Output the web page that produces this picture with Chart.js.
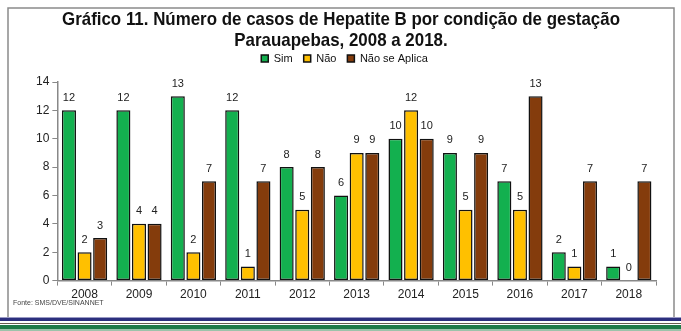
<!DOCTYPE html>
<html lang="pt">
<head>
    <meta charset="UTF-8">
    <title>Hepatite B por condição de gestação</title>
    <script src="https://cdn.jsdelivr.net/npm/chart.js"></script>
    <style>
        html, body { margin: 0; padding: 0; background: #fff; }
        #wrap { width: 681px; height: 331px; position: relative; }
    </style>
</head>
<body>
    <div id="wrap"><canvas id="chart" width="681" height="331"></canvas></div>

    <script>
        // Data
        const years = ['2008', '2009', '2010', '2011', '2012', '2013', '2014', '2015', '2016', '2017', '2018'];
        const sim = [12, 12, 13, 12, 8, 6, 10, 9, 7, 2, 1];
        const nao = [2, 4, 2, 1, 5, 9, 12, 5, 5, 1, 0];
        const naoSeAplica = [3, 4, 7, 7, 8, 9, 10, 9, 13, 7, 7];
        const yTicks = [0, 2, 4, 6, 8, 10, 12, 14];
        const titleLines = ['Gráfico 11. Número de casos de Hepatite B por condição de gestação',
                            'Parauapebas, 2008 a 2018.'];

        const sans = '"Liberation Sans", Arial, sans-serif';

        // value labels above each bar
        const barLabels = {
            id: 'barLabels',
            afterDatasetsDraw(chart) {
                const ctx = chart.ctx;
                ctx.save();
                ctx.font = '11px ' + sans;
                ctx.fillStyle = '#222';
                ctx.textAlign = 'center';
                ctx.textBaseline = 'bottom';
                chart.data.datasets.forEach((ds, i) => {
                    chart.getDatasetMeta(i).data.forEach((bar, j) => {
                        ctx.fillText(ds.data[j], bar.x, bar.y - 7);
                    });
                });
                ctx.restore();
            }
        };

        // give the legend a fixed height so the plot starts where it should
        const legendHeight = {
            id: 'legendHeight',
            beforeInit(chart) {
                const fit = chart.legend.fit;
                chart.legend.fit = function () {
                    fit.call(this);
                    this.height = 40;
                };
            }
        };

        // frame, condensed title, source note and the stripes under the figure
        const decorations = {
            id: 'decorations',
            beforeDraw(chart) {
                const ctx = chart.ctx;
                ctx.save();
                ctx.fillStyle = '#fff';
                ctx.fillRect(0, 0, chart.width, chart.height);
                ctx.strokeStyle = '#8a8a8a';
                ctx.lineWidth = 1.5;
                ctx.beginPath();
                ctx.moveTo(8, 320);
                ctx.lineTo(8, 8);
                ctx.lineTo(674, 8);
                ctx.lineTo(674, 320);
                ctx.stroke();
                ctx.restore();
            },
            afterDraw(chart) {
                const ctx = chart.ctx;
                ctx.save();
                // title, squeezed horizontally like the original condensed face
                ctx.font = 'bold 19px ' + sans;
                ctx.fillStyle = '#111';
                ctx.textAlign = 'center';
                ctx.textBaseline = 'middle';
                const sx = 558 / ctx.measureText(titleLines[0]).width;
                ctx.translate(341, 0);
                ctx.scale(sx, 1);
                ctx.fillText(titleLines[0], 0, 20);
                ctx.fillText(titleLines[1], 0, 41);
                ctx.restore();

                ctx.save();
                ctx.font = '7px ' + sans;
                ctx.fillStyle = '#444';
                ctx.textBaseline = 'middle';
                ctx.fillText('Fonte: SMS/DVE/SINANNET', 13, 303);

                const stripes = [
                    [317, 1, '#9a9ac4'],
                    [318, 3, '#2c2f7e'],
                    [321, 1, '#ffffff'],
                    [323, 1, '#6b5d50'],
                    [325, 4, '#1f7a48'],
                    [329, 2, '#9cc3aa']
                ];
                stripes.forEach(s => {
                    ctx.fillStyle = s[2];
                    ctx.fillRect(0, s[0], chart.width, s[1]);
                });
                ctx.restore();
            }
        };

        const barStyle = {
            borderColor: '#111',
            borderWidth: 1.5,
            borderSkipped: false,
            categoryPercentage: 0.86,
            barPercentage: 0.9
        };

        new Chart(document.getElementById('chart'), {
            type: 'bar',
            data: {
                labels: years,
                datasets: [
                    Object.assign({ label: 'Sim', data: sim, backgroundColor: '#13b04f' }, barStyle),
                    Object.assign({ label: 'Não', data: nao, backgroundColor: '#ffc000' }, barStyle),
                    Object.assign({ label: 'Não se Aplica', data: naoSeAplica, backgroundColor: '#843c0c' }, barStyle)
                ]
            },
            options: {
                responsive: false,
                animation: false,
                layout: { padding: { left: 33, right: 25, top: 42, bottom: 27 } },
                plugins: {
                    title: { display: false },
                    legend: {
                        display: true,
                        labels: {
                            boxWidth: 7,
                            boxHeight: 7,
                            padding: 11,
                            color: '#111',
                            font: { family: sans, size: 11 }
                        }
                    },
                    tooltip: { enabled: false }
                },
                scales: {
                    x: {
                        grid: {
                            display: true,
                            drawOnChartArea: false,
                            drawTicks: true,
                            tickLength: 5,
                            offset: true,
                            color: '#888'
                        },
                        border: { color: '#888', width: 1.5 },
                        ticks: { color: '#222', font: { family: sans, size: 12 }, padding: 2 }
                    },
                    y: {
                        min: 0,
                        max: 14,
                        afterBuildTicks(axis) {
                            axis.ticks = yTicks.map(v => ({ value: v }));
                        },
                        grid: {
                            display: true,
                            drawOnChartArea: false,
                            drawTicks: true,
                            tickLength: 5,
                            color: '#888'
                        },
                        border: { color: '#888', width: 1.5 },
                        ticks: { color: '#222', font: { family: sans, size: 12 }, padding: 3 }
                    }
                }
            },
            plugins: [legendHeight, decorations, barLabels]
        });
    </script>
</body>
</html>
